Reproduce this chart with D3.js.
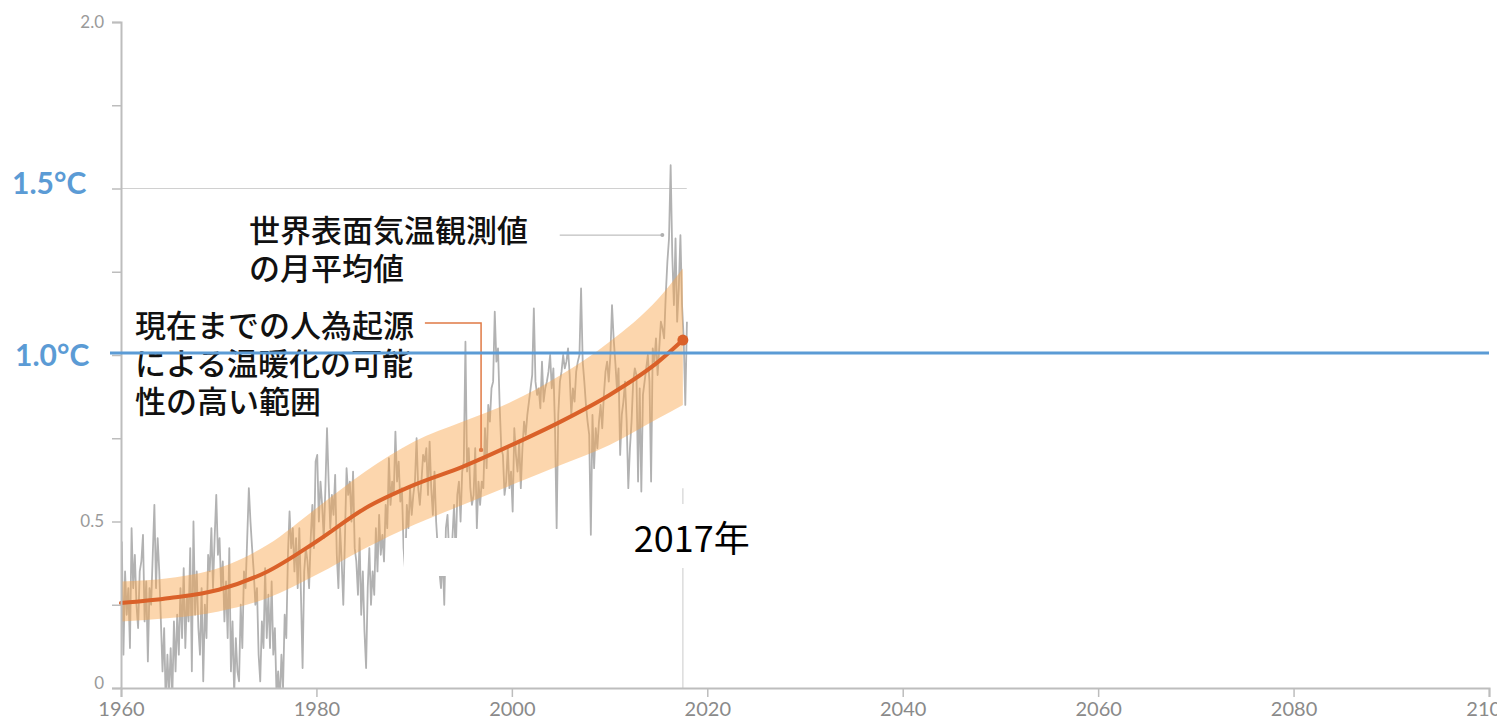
<!DOCTYPE html>
<html>
<head>
<meta charset="utf-8">
<script src="https://cdn.jsdelivr.net/npm/d3@7"></script>
<style>
  html, body { margin: 0; padding: 0; background: #fff; }
  svg { display: block; }
  .axis text { font-family: Lato, 'Noto Sans', sans-serif; }
  .axis-x text { font-size: 20px; }
  .axis-y text { font-size: 17px; }
</style>
</head>
<body>
<svg id="chart" width="1497" height="721"></svg>
<script>
// Global mean surface temperature change relative to pre-industrial (°C)

// Observed monthly series, sampled every two months, one row per year from 1960
const obsStartYear = 1960;
const obsPerYear = 6;
const obsValues = [
  0.44, 0.10, 0.35, 0.22, 0.30, 0.12,   // 1960
  0.48, 0.30, 0.40, 0.25, 0.18, 0.35,   // 1961
  0.38, 0.46, 0.20, 0.32, 0.08, 0.30,   // 1962
  0.25, 0.40, 0.55, 0.30, 0.45, 0.35,   // 1963
  0.20, 0.05, 0.18, -0.05, 0.10, -0.02, // 1964
  0.12, -0.03, 0.20, 0.05, 0.22, 0.10,  // 1965
  0.30, 0.15, 0.36, 0.12, 0.28, 0.20,   // 1966
  0.42, 0.05, 0.50, 0.22, 0.35, 0.18,   // 1967
  0.10, 0.30, 0.02, 0.25, 0.15, 0.40,   // 1968
  0.35, 0.48, 0.30, 0.45, 0.58, 0.40,   // 1969
  0.45, 0.30, 0.38, 0.20, 0.32, 0.15,   // 1970
  0.42, 0.05, 0.20, -0.02, 0.15, 0.05,  // 1971
  0.02, 0.25, 0.12, 0.35, 0.30, 0.45,   // 1972
  0.60, 0.50, 0.42, 0.35, 0.25, 0.30,   // 1973
  0.10, 0.02, 0.20, 0.12, 0.36, 0.15,   // 1974
  0.28, 0.12, 0.32, 0.10, 0.18, -0.02,  // 1975
  0.05, -0.05, 0.10, 0.00, 0.22, 0.15,  // 1976
  0.40, 0.53, 0.42, 0.48, 0.35, 0.45,   // 1977
  0.30, 0.48, 0.28, 0.06, 0.35, 0.42,   // 1978
  0.38, 0.30, 0.45, 0.55, 0.42, 0.68,   // 1979
  0.70, 0.50, 0.62, 0.55, 0.45, 0.60,   // 1980
  0.78, 0.62, 0.48, 0.58, 0.52, 0.64,   // 1981
  0.40, 0.30, 0.48, 0.38, 0.25, 0.45,   // 1982
  0.66, 0.58, 0.62, 0.50, 0.65, 0.42,   // 1983
  0.38, 0.28, 0.45, 0.22, 0.35, 0.17,   // 1984
  0.06, 0.30, 0.42, 0.25, 0.35, 0.28,   // 1985
  0.48, 0.35, 0.52, 0.40, 0.46, 0.38,   // 1986
  0.55, 0.48, 0.69, 0.55, 0.62, 0.58,   // 1987
  0.77, 0.62, 0.68, 0.56, 0.60, 0.42,   // 1988
  0.35, 0.55, 0.48, 0.60, 0.52, 0.58,   // 1989
  0.62, 0.75, 0.60, 0.55, 0.62, 0.70,   // 1990
  0.68, 0.72, 0.58, 0.74, 0.60, 0.52,   // 1991
  0.65, 0.50, 0.42, 0.35, 0.30, 0.40,   // 1992
  0.25, 0.48, 0.52, 0.40, 0.38, 0.45,   // 1993
  0.55, 0.40, 0.58, 0.62, 0.50, 0.65,   // 1994
  0.68, 1.04, 0.65, 0.72, 0.60, 0.55,   // 1995
  0.58, 0.72, 0.48, 0.62, 0.55, 0.62,   // 1996
  0.60, 0.78, 0.66, 0.85, 0.80, 0.90,   // 1997
  0.92, 1.13, 0.98, 1.02, 0.85, 0.72,   // 1998
  0.70, 0.58, 0.62, 0.72, 0.60, 0.65,   // 1999
  0.53, 0.78, 0.70, 0.65, 0.74, 0.60,   // 2000
  0.72, 0.80, 0.76, 0.82, 0.86, 0.90,   // 2001
  0.94, 1.14, 0.92, 0.88, 0.90, 0.84,   // 2002
  0.98, 0.86, 0.90, 0.92, 0.95, 1.00,   // 2003
  0.90, 0.96, 0.78, 0.48, 0.82, 0.92,   // 2004
  0.95, 1.00, 0.96, 0.98, 1.02, 0.94,   // 2005
  0.82, 0.90, 0.86, 0.95, 0.98, 1.00,   // 2006
  1.20, 0.98, 0.92, 0.85, 0.80, 0.76,   // 2007
  0.46, 0.82, 0.66, 0.78, 0.72, 0.80,   // 2008
  0.85, 0.78, 0.88, 0.95, 0.98, 0.92,   // 2009
  1.00, 1.15, 1.05, 0.98, 0.90, 0.96,   // 2010
  0.70, 0.82, 0.86, 0.92, 0.80, 0.60,   // 2011
  0.72, 0.80, 0.92, 0.96, 0.94, 0.62,   // 2012
  0.90, 0.59, 0.88, 0.92, 0.96, 1.00,   // 2013
  0.92, 0.62, 1.02, 0.98, 1.05, 0.94,   // 2014
  1.02, 1.10, 1.08, 1.05, 1.18, 1.28,   // 2015
  1.35, 1.57, 1.30, 1.15, 1.35, 1.10,   // 2016
  1.20, 1.36, 1.15, 1.05, 0.85, 1.10    // 2017
];

// Likely range of human-induced warming to date
const rangeYears  = [1960, 1965, 1970, 1975, 1980, 1985, 1990, 1995, 2000, 2005, 2010, 2015, 2017.5];
const rangeCenter = [0.255, 0.27, 0.295, 0.35, 0.44, 0.54, 0.61, 0.665, 0.73, 0.80, 0.88, 0.98, 1.045];
const rangeLow    = [0.20, 0.21, 0.23, 0.27, 0.34, 0.42, 0.49, 0.55, 0.61, 0.67, 0.73, 0.81, 0.85];
const rangeHigh   = [0.32, 0.33, 0.36, 0.43, 0.54, 0.65, 0.74, 0.80, 0.86, 0.94, 1.04, 1.17, 1.26];

// Axis ticks
const xTicks = [1960, 1980, 2000, 2020, 2040, 2060, 2080, 2100];
const yTicks = [0, 0.25, 0.5, 0.75, 1.0, 1.25, 1.5, 1.75, 2.0];
const yLabelled = [0, 0.5, 2.0];

// Reference levels and labels
const levelValues = [1.5, 1.0];
const levelLabels = ["1.5°C", "1.0°C"];
const currentYear = 2017.5;
const currentLabel = "2017年";
const obsLegend = ["世界表面気温観測値", "の月平均値"];
const rangeLegend = ["現在までの人為起源", "による温暖化の可能", "性の高い範囲"];

const svg = d3.select("#chart");
const x = d3.scaleLinear().domain([1960, 2100]).range([121, 1489]);
const y = d3.scaleLinear().domain([0, 2]).range([688, 22]);

const obs = obsValues.map((v, i) => ({ t: obsStartYear + (i + 0.5) / obsPerYear, v }));
const range = rangeYears.map((t, i) => ({ t, c: rangeCenter[i], lo: rangeLow[i], hi: rangeHigh[i] }));

svg.append("defs").append("clipPath").attr("id", "plot-clip")
  .append("rect").attr("x", x(1960)).attr("y", 0)
  .attr("width", x(2100) - x(1960)).attr("height", y(0));

// 1.5°C guide line across the observed period
svg.append("line")
  .attr("x1", x(1960)).attr("x2", x(2017.9))
  .attr("y1", y(1.5)).attr("y2", y(1.5))
  .attr("stroke", "#d0d0d0").attr("stroke-width", 1);

// marker for the current year
svg.append("line")
  .attr("x1", x(currentYear)).attr("x2", x(currentYear))
  .attr("y1", y(0.6)).attr("y2", y(0))
  .attr("stroke", "#dcdcdc").attr("stroke-width", 1.5);

// observed series
const plot = svg.append("g").attr("clip-path", "url(#plot-clip)");
plot.append("path")
  .datum(obs)
  .attr("fill", "none")
  .attr("stroke", "#b2b2b2")
  .attr("stroke-width", 1.8)
  .attr("stroke-linejoin", "round")
  .attr("d", d3.line().x(d => x(d.t)).y(d => y(d.v)));

// likely range band
plot.append("path")
  .datum(range)
  .attr("fill", "#f9a54a")
  .attr("fill-opacity", 0.45)
  .attr("d", d3.area().curve(d3.curveMonotoneX)
    .x(d => x(d.t)).y0(d => y(d.lo)).y1(d => y(d.hi)));

// central estimate
svg.append("path")
  .datum(range)
  .attr("fill", "none")
  .attr("stroke", "#da6129")
  .attr("stroke-width", 4)
  .attr("stroke-linecap", "round")
  .attr("d", d3.line().curve(d3.curveMonotoneX).x(d => x(d.t)).y(d => y(d.c)));

const last = range[range.length - 1];
svg.append("circle")
  .attr("cx", x(last.t)).attr("cy", y(last.c)).attr("r", 5.5)
  .attr("fill", "#da6129");

// blanked patch under the series
svg.append("rect")
  .attr("x", 404).attr("y", 538).attr("width", 96).attr("height", 38)
  .attr("fill", "#fff");

// axes
const yAxis = d3.axisLeft(y).tickValues(yTicks).tickSize(9).tickPadding(8)
  .tickFormat(d => yLabelled.includes(d) ? (d === 0 ? "0" : d3.format(".1f")(d)) : "");
const gy = svg.append("g").attr("class", "axis axis-y")
  .attr("transform", `translate(${x(1960)},0)`).call(yAxis)
  .attr("font-size", null).attr("font-family", null);
gy.select(".domain").attr("stroke", "#bdbdbd").attr("stroke-width", 2);
gy.selectAll(".tick line").attr("stroke", "#bdbdbd").attr("stroke-width", 1.5);
gy.selectAll(".tick text")
  .attr("fill", "#9a9a9a")
  .attr("dy", d => d === 0 ? "0.05em" : "0.32em");

const xAxis = d3.axisBottom(x).tickValues(xTicks).tickSize(9).tickPadding(5).tickFormat(d3.format("d"));
const gx = svg.append("g").attr("class", "axis axis-x")
  .attr("transform", `translate(0,${y(0)})`).call(xAxis)
  .attr("font-size", null).attr("font-family", null);
gx.select(".domain").attr("stroke", "#bdbdbd").attr("stroke-width", 2);
gx.selectAll(".tick line").attr("stroke", "#bdbdbd").attr("stroke-width", 1.5);
gx.selectAll(".tick text").attr("fill", "#8a8a8a");

// legend for the observed series
const legendFont = "'Noto Sans CJK JP', sans-serif";
svg.append("line")
  .attr("x1", x(2004.9)).attr("x2", x(2015.4))
  .attr("y1", y(1.36)).attr("y2", y(1.36))
  .attr("stroke", "#b0b0b0").attr("stroke-width", 1);
svg.append("circle")
  .attr("cx", x(2015.4)).attr("cy", y(1.36)).attr("r", 2)
  .attr("fill", "#b0b0b0");
svg.append("text")
  .attr("font-family", legendFont).attr("font-size", 31).attr("font-weight", 500)
  .attr("fill", "#111")
  .selectAll("tspan").data(obsLegend).join("tspan")
  .attr("x", 249).attr("y", (d, i) => 242 + i * 38)
  .text(d => d);

// legend for the likely range
svg.append("path")
  .attr("fill", "none").attr("stroke", "#e07a45").attr("stroke-width", 1.5)
  .attr("d", d3.line()([[x(1991.1), y(1.096)], [x(1996.85), y(1.096)], [x(1996.85), y(0.715)]]));
svg.append("circle")
  .attr("cx", x(1996.85)).attr("cy", y(0.715)).attr("r", 2.2)
  .attr("fill", "#e07a45");
svg.append("text")
  .attr("font-family", legendFont).attr("font-size", 31).attr("font-weight", 500)
  .attr("fill", "#111")
  .selectAll("tspan").data(rangeLegend).join("tspan")
  .attr("x", 135).attr("y", (d, i) => 337 + i * 38)
  .text(d => d);

// current year label
svg.append("rect")
  .attr("x", 626).attr("y", 504).attr("width", 134).attr("height", 64)
  .attr("fill", "#fff");
svg.append("text")
  .attr("x", x(currentYear) - 49).attr("y", 552)
  .attr("font-family", legendFont).attr("font-size", 36)
  .attr("fill", "#000")
  .text(currentLabel);

// 1.0°C reference line and level labels
svg.append("line")
  .attr("x1", 110).attr("x2", x(2100))
  .attr("y1", y(1.0) - 2).attr("y2", y(1.0) - 2)
  .attr("stroke", "#5b9bd5").attr("stroke-width", 3);
svg.selectAll("text.level")
  .data(levelValues).join("text")
  .attr("class", "level")
  .attr("x", (d, i) => i === 0 ? 12 : 15)
  .attr("y", (d, i) => y(d) + (i === 0 ? -5 : 0))
  .attr("dy", "0.36em")
  .attr("font-family", "Lato, 'Open Sans', sans-serif")
  .attr("font-weight", 700).attr("font-size", 30)
  .attr("fill", "#5b9bd5")
  .text((d, i) => levelLabels[i]);
</script>
</body>
</html>
